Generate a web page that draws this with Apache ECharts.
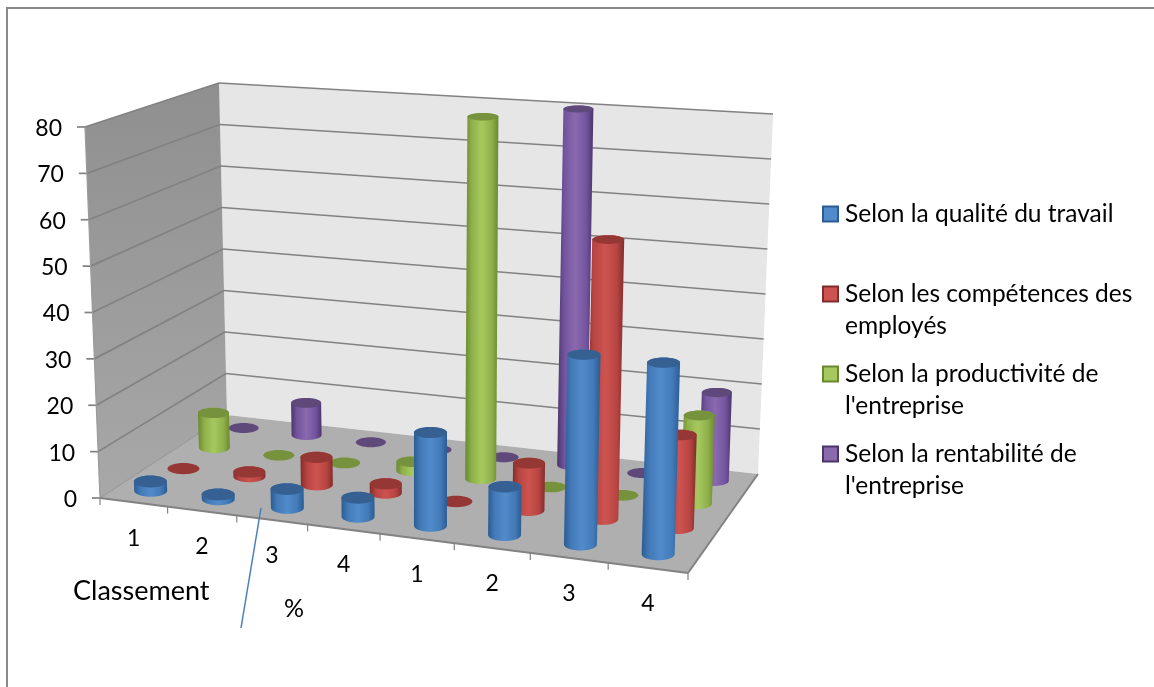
<!DOCTYPE html>
<html><head><meta charset="utf-8">
<style>html,body{margin:0;padding:0;background:#fff}#c{width:1154px;height:687px}</style>
<script src="https://cdn.jsdelivr.net/npm/echarts@6/dist/echarts.min.js"></script>
</head><body><div id="c"></div>
<script>
const categories = ['1','2','3','4','1','2','3','4'];
const yTicks = [0,10,20,30,40,50,60,70,80];
const nameBlue = 'Selon la qualité du travail';
const nameRed = 'Selon les compétences des employés';
const nameGreen = "Selon la productivité de l'entreprise";
const namePurple = "Selon la rentabilité de l'entreprise";
const blue = [2,1,4,4,19.5,10,39,39];
const red = [0,1,6,2,0,10,59,19.5];
const green = [8,0,0,2,80,0,0,19];
const purple = [0,7.5,0,0,0,80,0,19.5];

const FONT = 'Lato';
const FS = 23;
const G = {left:100, top:127, width:588, height:371};
// Box corners, screen px: front-left, front-right, back-right, back-left
const floorQ = [[100,498],[688,573],[758,474],[227,415]];
const topQ   = [[85,127],[701,173],[773,114],[219,83]];
// Verticals converge slightly towards a point far below the chart
const VX = 430, VK = 8100;

function quadMap(q){
  const [p0,p1,p2,p3]=q;
  const dx1=p1[0]-p2[0],dx2=p3[0]-p2[0],sx=p0[0]-p1[0]+p2[0]-p3[0];
  const dy1=p1[1]-p2[1],dy2=p3[1]-p2[1],sy=p0[1]-p1[1]+p2[1]-p3[1];
  const den=dx1*dy2-dx2*dy1;
  const g=(sx*dy2-dx2*sy)/den,h=(dx1*sy-sx*dy1)/den;
  const a=p1[0]-p0[0]+g*p1[0],b=p3[0]-p0[0]+h*p3[0],c=p0[0];
  const d=p1[1]-p0[1]+g*p1[1],e=p3[1]-p0[1]+h*p3[1],f=p0[1];
  return (u,v)=>{const w=g*u+h*v+1;return [(a*u+b*v+c)/w,(d*u+e*v+f)/w];};
}
const H0=quadMap(floorQ),H1=quadMap(topQ);
function proj3(u,d,t){const a=H0(u,d),b=H1(u,d);return [a[0]+(b[0]-a[0])*t,a[1]+(b[1]-a[1])*t];}
// Converts an axis-mapped pixel into the 3D box, then to the screen
function fromAxis(api,cat,val,depth){
  const px=api.coord([cat,val]);
  const u=(px[0]-G.left)/G.width,t=(G.top+G.height-px[1])/G.height;
  const base=H0(u,depth),p=proj3(u,depth,t);
  const h=base[1]-p[1];
  return {x:base[0]+(base[0]-VX)/VK*h,y:p[1],t:t,bx:base[0],by:base[1]};
}

function cylinder(cfg){
  return function(params,api){
    const cat=api.value(0),val=api.value(1);
    const P=fromAxis(api,cat,val,cfg.depth);
    const rx=cfg.rx,ryB=cfg.ry,ryT=cfg.ry*(1-.3*P.t),kids=[];
    if(val>0){
      const pts=[];
      for(let i=0;i<=24;i++){const a=Math.PI*i/24;pts.push([P.bx+rx*Math.cos(a),P.by+ryB*Math.sin(a)]);}
      for(let i=0;i<=24;i++){const a=Math.PI+Math.PI*i/24;pts.push([P.x+rx*Math.cos(a),P.y+ryT*Math.sin(a)]);}
      kids.push({type:'polygon',shape:{points:pts},style:{fill:new echarts.graphic.LinearGradient(0,0,1,0,[
        {offset:0,color:cfg.edge},{offset:.2,color:cfg.mid},{offset:.5,color:cfg.light},{offset:.8,color:cfg.mid},{offset:1,color:cfg.edge}])}});
    }
    kids.push({type:'ellipse',shape:{cx:P.x,cy:P.y,rx:rx,ry:ryT},style:{fill:cfg.top}});
    return {type:'group',children:kids};
  };
}

function renderFrame(params,api){
  const L=[],c='#828282';
  const FL=floorQ[0],FR=floorQ[1],BR=floorQ[2],BL=floorQ[3];
  const TL=topQ[0],TB=topQ[3],TR=topQ[2];
  L.push({type:'polygon',shape:{points:[TB,TR,BR,BL]},style:{fill:'#e6e6e6'}});
  L.push({type:'polygon',shape:{points:[TL,TB,BL,FL]},style:{fill:new echarts.graphic.LinearGradient(0,0,0,1,[{offset:0,color:'#8f8f8f'},{offset:1,color:'#a8a8a8'}])}});
  L.push({type:'polygon',shape:{points:[FL,FR,BR,BL]},style:{fill:'#afafaf'}});
  const line=(a,b,w,col)=>L.push({type:'line',shape:{x1:a[0],y1:a[1],x2:b[0],y2:b[1]},style:{stroke:col||c,lineWidth:w}});
  yTicks.forEach(v=>{
    const py=api.coord([0,v]);
    const t=(G.top+G.height-py[1])/G.height;
    const a=proj3(0,0,t),b=proj3(0,1,t),e=proj3(1,1,t);
    if(v>0){line(a,b,1.7);line(b,e,1.7);}
    line([a[0]-8,a[1]],a,1.7);
    L.push({type:'text',style:{x:a[0]-23,y:a[1]+1.5,text:String(v),fill:'#000',fontFamily:FONT,fontSize:FS,align:'right',verticalAlign:'middle'}});
  });
  line(FL,TL,1.2,'#9a9a9a');
  line(FL,BL,1.2,'#9a9a9a');
  line(FL,FR,2);
  line(FR,BR,2);
  categories.forEach((n,i)=>{
    const a=H0(i/8,0);
    line(a,[a[0],a[1]+7],1.2);
    const m=H0((i+.5)/8,0);
    L.push({type:'text',style:{x:m[0],y:m[1]+36,text:n,fill:'#000',fontFamily:FONT,fontSize:FS,align:'center',verticalAlign:'middle'}});
  });
  line(FR,[FR[0],FR[1]+7],1.2);
  return {type:'group',children:L};
}

const catData = a => a.map((v,i)=>[i,v]);
const mk=(name,data,cfg)=>({name,type:'custom',coordinateSystem:'cartesian2d',clip:false,silent:true,
  itemStyle:{color:cfg.light,borderColor:cfg.edge,borderWidth:1},
  encode:{x:0,y:1},data:catData(data),renderItem:cylinder(cfg)});

const legendText={};
legendText[nameBlue]='\n'+nameBlue+'\n ';
legendText[nameRed]='\nSelon les compétences des\nemployés';
legendText[nameGreen]="\nSelon la productivité de\nl'entreprise";
legendText[namePurple]="\nSelon la rentabilité de\nl'entreprise";

const chart=echarts.init(document.getElementById('c'),null,{renderer:'canvas'});
chart.setOption({
  animation:false,backgroundColor:'#fff',
  grid:{left:G.left,top:G.top,width:G.width,height:G.height},
  xAxis:{type:'category',data:categories,show:false},
  yAxis:{type:'value',min:0,max:80,interval:10,show:false},
  legend:{orient:'vertical',left:817,top:161,itemWidth:15,itemHeight:15,itemGap:-16,selectedMode:false,icon:'rect',
    data:[nameBlue,nameRed,nameGreen,namePurple],
    formatter:n=>legendText[n],
    textStyle:{fontFamily:FONT,fontSize:24.5,color:'#000',lineHeight:32,padding:[0,0,0,2]}},
  graphic:[
    {type:'rect',shape:{x:7,y:8,width:1300,height:900},style:{fill:'none',stroke:'#8a8a8a',lineWidth:2},z:-1},
    {type:'text',x:73,y:578,style:{text:'Classement',fontFamily:FONT,fontSize:27,fill:'#000'},z:50},
    {type:'text',x:284,y:596,style:{text:'%',fontFamily:FONT,fontSize:25,fill:'#000'},z:50},
    {type:'line',shape:{x1:261,y1:508,x2:241,y2:628},style:{stroke:'#4a7ebb',lineWidth:1.5},z:50}
  ],
  series:[
    {name:'frame',type:'custom',coordinateSystem:'cartesian2d',clip:false,silent:true,data:[[0,0]],encode:{x:0,y:1},renderItem:renderFrame},
    mk(namePurple,purple,{depth:.875,rx:15,ry:5,edge:'#4a3668',mid:'#7354a0',light:'#8a69ad',top:'#5f497a'}),
    mk(nameGreen,green,{depth:.625,rx:15.5,ry:5.3,edge:'#6b8830',mid:'#8fb04a',light:'#a6c95f',top:'#76923c'}),
    mk(nameRed,red,{depth:.375,rx:16,ry:5.7,edge:'#812d2b',mid:'#b84542',light:'#cd5350',top:'#953735'}),
    mk(nameBlue,blue,{depth:.125,rx:16.5,ry:6,edge:'#2b5c93',mid:'#437ab8',light:'#528bcb',top:'#376092'})
  ]
});
</script></body></html>
